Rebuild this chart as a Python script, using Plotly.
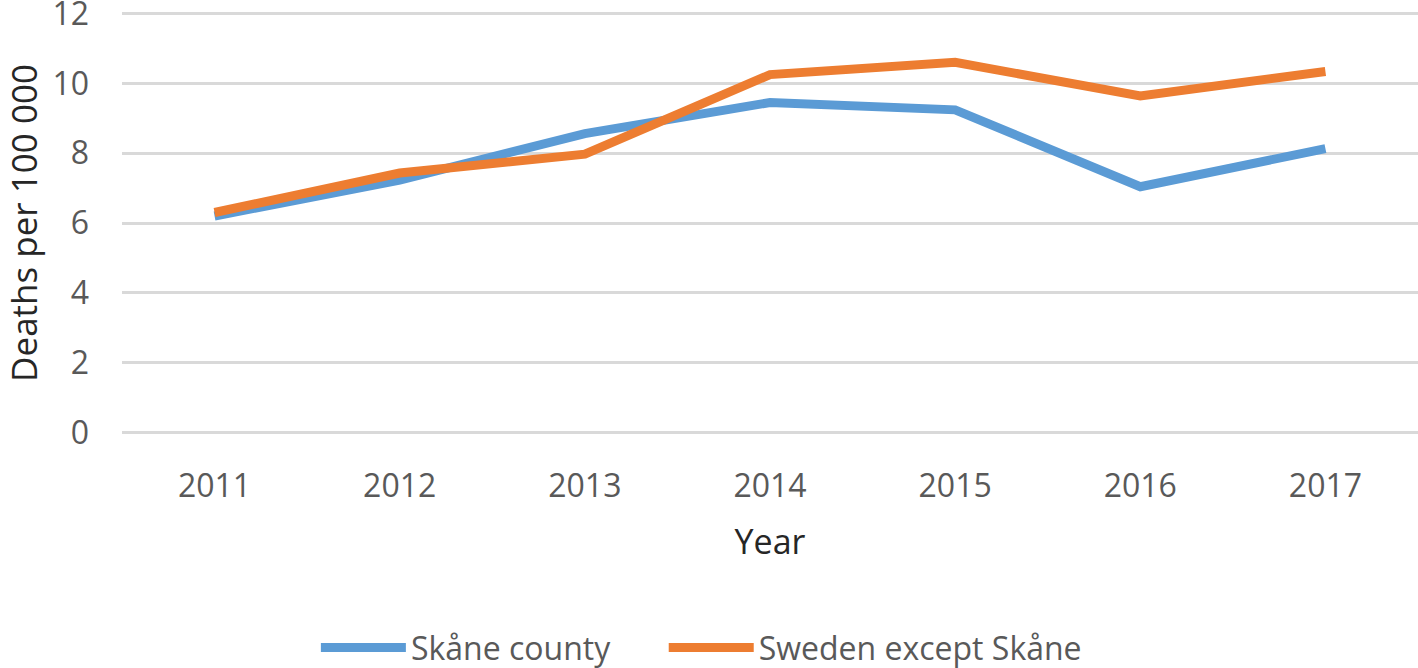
import plotly.graph_objects as go

years = ["2011", "2012", "2013", "2014", "2015", "2016", "2017"]
skane = [6.2, 7.23, 8.56, 9.45, 9.24, 7.04, 8.13]
sweden = [6.3, 7.43, 7.97, 10.25, 10.6, 9.64, 10.34]
y_ticks = [0, 2, 4, 6, 8, 10, 12]

FONT = "Open Sans"
fig = go.Figure()
fig.add_trace(go.Scatter(x=years, y=skane, mode="lines", name="Skåne county",
                         line=dict(color="#5B9BD5", width=9), legend="legend"))
fig.add_trace(go.Scatter(x=years, y=sweden, mode="lines", name="Sweden except Skåne",
                         line=dict(color="#ED7D31", width=9), legend="legend2"))

legend_common = dict(orientation="h", yanchor="middle", y=-0.497, xanchor="left",
                     font=dict(size=32, color="#595959"), itemwidth=85,
                     bgcolor="rgba(0,0,0,0)")

fig.update_layout(
    width=1418, height=668,
    margin=dict(l=122, r=0, t=10, b=232, autoexpand=False),
    plot_bgcolor="white", paper_bgcolor="white",
    font=dict(family=FONT, color="#595959", size=32),
    xaxis=dict(type="category", range=[-0.5, 6.5], showgrid=False, showline=False,
               ticks="", tickfont=dict(size=32, color="#595959"), ticklabelstandoff=28,
               automargin=False,
               title=dict(text="Year", font=dict(size=34, color="#262626"), standoff=25)),
    yaxis=dict(range=[-0.1, 12.1], tickvals=y_ticks, showgrid=True, gridcolor="#D9D9D9",
               gridwidth=3, zeroline=False, showline=False, ticks="",
               tickfont=dict(size=32, color="#595959"), ticklabelstandoff=32,
               ticklabeloverflow="allow", automargin=False,
               title=dict(text="Deaths per 100 000", font=dict(size=35, color="#262626"),
                          standoff=54)),
    legend=dict(x=0.1496, **legend_common),
    legend2=dict(x=0.418, **legend_common),
    showlegend=True,
)

fig.write_html("out.html", post_script="document.body.style.margin='0';",
               config={"displayModeBar": False})
